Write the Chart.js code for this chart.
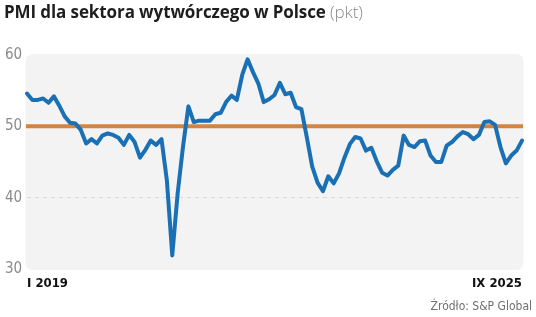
<!DOCTYPE html>
<html lang="pl">
<head>
<meta charset="utf-8">
<script src="https://cdn.jsdelivr.net/npm/chart.js@4"></script>
<style>
  html, body { margin: 0; padding: 0; background: #fff; }
  #wrap { position: relative; width: 536px; height: 317px; overflow: hidden; }
  #title { position: absolute; left: 4px; top: 0px; font-family: "Open Sans", Roboto, sans-serif; font-size: 17px; font-weight: bold; color: #1e1e1e; white-space: nowrap; letter-spacing: -0.1px; }
  #title span { font-weight: 300; color: #8a8a8a; }
  #source { position: absolute; right: 4px; top: 299px; font-family: "DejaVu Sans Condensed", sans-serif; font-size: 12px; color: #707070; white-space: nowrap; }
  canvas { position: absolute; left: 0; top: 0; }
</style>
</head>
<body>
<div id="wrap">
  <canvas id="pmiChart" width="536" height="317"></canvas>
  <div id="title">PMI dla sektora wytwórczego w Polsce <span>(pkt)</span></div>
  <div id="source">Źródło: S&amp;P Global</div>
</div>
<script>
// dane miesięczne PMI (pkt)
var pmi2018 = [54.6, 53.7, 53.7, 53.9, 53.3, 54.2, 52.9, 51.4, 50.5, 50.4, 49.5, 47.6];
var pmi2019 = [48.2, 47.6, 48.7, 49.0, 48.8, 48.4, 47.4, 48.8, 47.8, 45.6, 46.7, 48.0];
var pmi2020 = [47.4, 48.2, 42.4, 31.9, 40.6, 47.2, 52.8, 50.6, 50.8, 50.8, 50.8, 51.7];
var pmi2021 = [51.9, 53.4, 54.3, 53.7, 57.2, 59.4, 57.6, 56.0, 53.4, 53.8, 54.4, 56.1];
var pmi2022 = [54.5, 54.7, 52.7, 52.4, 48.5, 44.4, 42.1, 40.9, 43.0, 42.0, 43.4, 45.6];
var pmi2023 = [47.5, 48.5, 48.3, 46.6, 47.0, 45.1, 43.5, 43.1, 43.9, 44.5, 48.7, 47.4];
var pmi2024 = [47.1, 47.9, 48.0, 45.9, 45.0, 45.0, 47.3, 47.8, 48.6, 49.2, 48.9, 48.2];
var pmi2025 = [48.8, 50.6, 50.7, 50.2, 47.1, 44.8, 45.9, 46.6, 48.0];

var years = [2018, 2019, 2020, 2021, 2022, 2023, 2024, 2025];
var months = ['I', 'II', 'III', 'IV', 'V', 'VI', 'VII', 'VIII', 'IX', 'X', 'XI', 'XII'];
var xTickLabels = ['I 2019', 'IX 2025'];
var yTicks = [30, 40, 50, 60];
var threshold = 50;

var pmi = [].concat(pmi2018, pmi2019, pmi2020, pmi2021, pmi2022, pmi2023, pmi2024, pmi2025);
var labels = [];
years.forEach(function (y) {
    months.forEach(function (m) {
        if (labels.length < pmi.length) labels.push(m + ' ' + y);
    });
});

// tło wykresu (zaokrąglony prostokąt) i linia 50 pkt
var panelPlugin = {
    id: 'panel',
    beforeDraw: function (chart) {
        var a = chart.chartArea, ctx = chart.ctx;
        ctx.save();
        ctx.fillStyle = '#f3f3f3';
        ctx.beginPath();
        ctx.roundRect(a.left - 1.5, a.top - 1, a.right - a.left + 3, a.bottom - a.top + 2, 7);
        ctx.fill();
        ctx.restore();
    },
    beforeDatasetsDraw: function (chart) {
        var a = chart.chartArea, ctx = chart.ctx;
        var y = chart.scales.y.getPixelForValue(threshold);
        ctx.save();
        ctx.strokeStyle = '#d4843f';
        ctx.lineWidth = 4;
        ctx.beginPath();
        ctx.moveTo(a.left - 1, y);
        ctx.lineTo(a.right + 1, y);
        ctx.stroke();
        ctx.restore();
    }
};

var ctx = document.getElementById('pmiChart').getContext('2d');
var graf = new Chart(ctx, {
    type: 'line',
    data: {
        labels: labels,
        datasets: [{
            data: pmi,
            borderColor: '#1a70b5',
            borderWidth: 4,
            pointRadius: 0,
            tension: 0,
            borderJoinStyle: 'round',
            borderCapStyle: 'round'
        }]
    },
    options: {
        responsive: false,
        animation: false,
        layout: { padding: { left: 5, right: 14, top: 55, bottom: 18 } },
        plugins: { legend: { display: false }, tooltip: { enabled: false } },
        scales: {
            x: {
                grid: { display: false, drawTicks: false },
                border: { display: false },
                afterFit: function (s) { s.height = 30; },
                ticks: {
                    autoSkip: false,
                    maxRotation: 0,
                    align: 'inner',
                    padding: 7,
                    color: '#111',
                    font: { family: '"DejaVu Sans Condensed", sans-serif', size: 13, weight: 'bold' },
                    callback: function (v, i) {
                        if (i === 0) return xTickLabels[0];
                        if (i === pmi.length - 1) return xTickLabels[1];
                        return '';
                    }
                }
            },
            y: {
                min: yTicks[0],
                max: yTicks[yTicks.length - 1],
                afterFit: function (s) { s.width = 22; },
                afterBuildTicks: function (s) { s.ticks = yTicks.map(function (v) { return { value: v }; }); },
                grid: {
                    drawTicks: false,
                    color: function (c) { return c.tick && c.tick.value === 40 ? '#d9d9d9' : 'rgba(0,0,0,0)'; },
                    lineWidth: 1
                },
                border: { display: false, dash: [4, 4] },
                ticks: {
                    crossAlign: 'far',
                    padding: 0,
                    color: '#8a8a8a',
                    font: { family: '"DejaVu Sans Condensed", sans-serif', size: 15 }
                }
            }
        }
    },
    plugins: [panelPlugin]
});
</script>
</body>
</html>
